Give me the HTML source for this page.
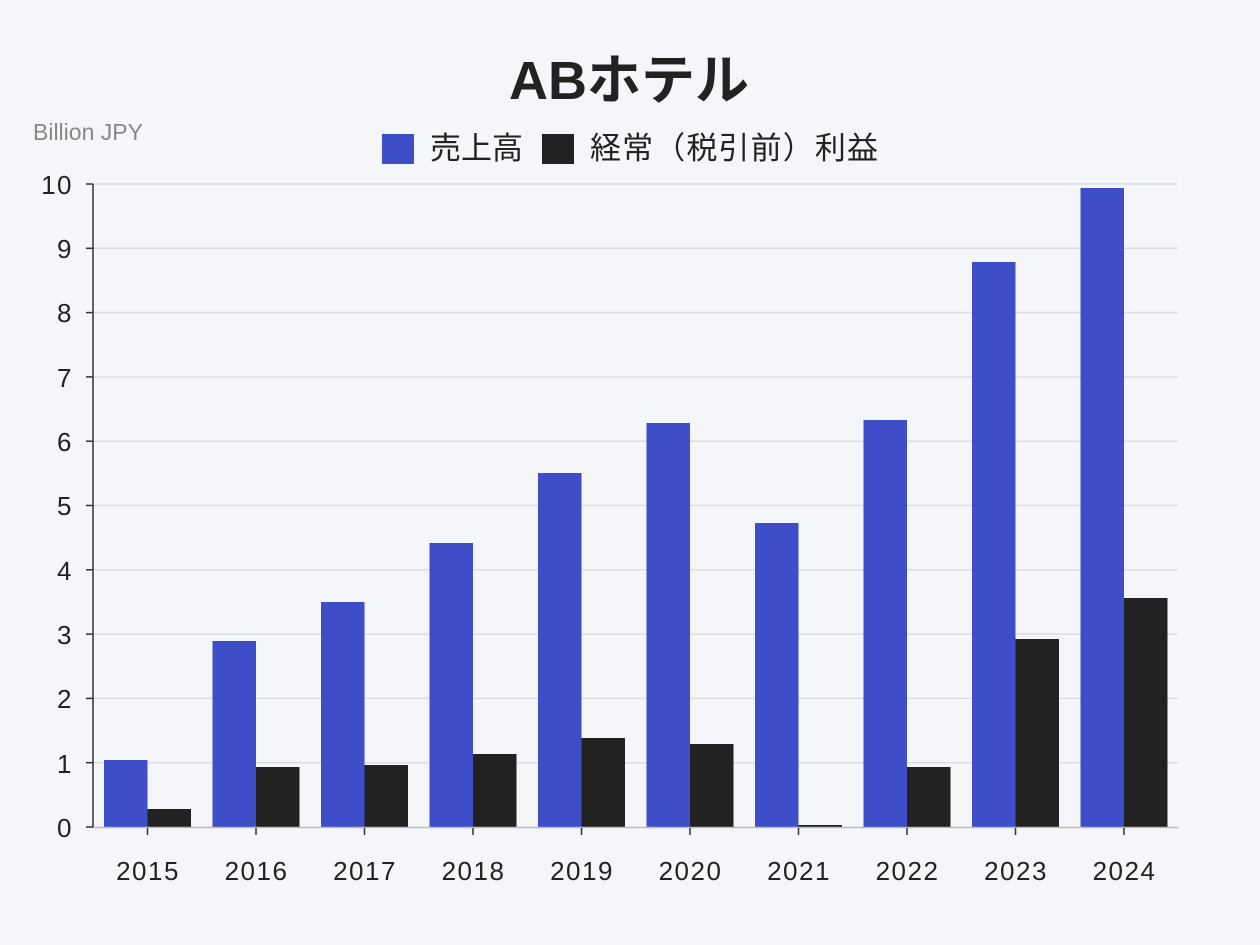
<!DOCTYPE html>
<html><head><meta charset="utf-8"><style>
body{margin:0;background:#f5f6fa;}
svg{display:block;font-family:"Liberation Sans","Noto Sans CJK JP",sans-serif;}
</style></head><body>
<svg width="1260" height="945" viewBox="0 0 1260 945">
<rect width="1260" height="945" fill="#f5f6fa"/>
<text x="629" y="99" text-anchor="middle" font-size="54" font-weight="bold" fill="#222">ABホテル</text>
<text x="33" y="140" font-size="23" fill="#888">Billion JPY</text>
<rect x="382" y="134" width="32" height="30" fill="#3d4ec8"/>
<text x="430" y="159" font-size="31" fill="#222">売上高</text>
<rect x="542" y="134" width="32" height="30" fill="#222"/>
<text x="590" y="159" font-size="31" fill="#222" textLength="288">経常（税引前）利益</text>
<g stroke="#dcdde2" stroke-width="1.5">
<line x1="93" x2="1178" y1="184" y2="184"/><line x1="93" x2="1178" y1="248.3" y2="248.3"/>
<line x1="93" x2="1178" y1="312.6" y2="312.6"/><line x1="93" x2="1178" y1="376.9" y2="376.9"/>
<line x1="93" x2="1178" y1="441.2" y2="441.2"/><line x1="93" x2="1178" y1="505.5" y2="505.5"/>
<line x1="93" x2="1178" y1="569.8" y2="569.8"/><line x1="93" x2="1178" y1="634.1" y2="634.1"/>
<line x1="93" x2="1178" y1="698.4" y2="698.4"/><line x1="93" x2="1178" y1="762.7" y2="762.7"/>
</g>
<g fill="#3d4ec8">
<rect x="104" y="760" width="43.5" height="67"/>
<rect x="212.5" y="641" width="43.5" height="186"/>
<rect x="321" y="602" width="43.5" height="225"/>
<rect x="429.5" y="543" width="43.5" height="284"/>
<rect x="538" y="473" width="43.5" height="354"/>
<rect x="646.5" y="423" width="43.5" height="404"/>
<rect x="755" y="523" width="43.5" height="304"/>
<rect x="863.5" y="420" width="43.5" height="407"/>
<rect x="972" y="262" width="43.5" height="565"/>
<rect x="1080.5" y="188" width="43.5" height="639"/>
</g>
<g fill="#222">
<rect x="147.5" y="809" width="43.5" height="18"/>
<rect x="256" y="767" width="43.5" height="60"/>
<rect x="364.5" y="765" width="43.5" height="62"/>
<rect x="473" y="754" width="43.5" height="73"/>
<rect x="581.5" y="738" width="43.5" height="89"/>
<rect x="690" y="744" width="43.5" height="83"/>
<rect x="798.5" y="825" width="43.5" height="2"/>
<rect x="907" y="767" width="43.5" height="60"/>
<rect x="1015.5" y="639" width="43.5" height="188"/>
<rect x="1124" y="598" width="43.5" height="229"/>
</g>
<g stroke="#333" stroke-width="1.5">
<line x1="93" x2="93" y1="184" y2="828"/>
<line x1="93" x2="1178" y1="827.5" y2="827.5" stroke="#bbb"/>
</g>
<g stroke="#333" stroke-width="1.5">
<line x1="86" x2="93" y1="184" y2="184"/><line x1="86" x2="93" y1="248.3" y2="248.3"/>
<line x1="86" x2="93" y1="312.6" y2="312.6"/><line x1="86" x2="93" y1="376.9" y2="376.9"/>
<line x1="86" x2="93" y1="441.2" y2="441.2"/><line x1="86" x2="93" y1="505.5" y2="505.5"/>
<line x1="86" x2="93" y1="569.8" y2="569.8"/><line x1="86" x2="93" y1="634.1" y2="634.1"/>
<line x1="86" x2="93" y1="698.4" y2="698.4"/><line x1="86" x2="93" y1="762.7" y2="762.7"/>
<line x1="86" x2="93" y1="827" y2="827"/>
<line x1="147.5" x2="147.5" y1="828" y2="835"/><line x1="256" x2="256" y1="828" y2="835"/>
<line x1="364.5" x2="364.5" y1="828" y2="835"/><line x1="473" x2="473" y1="828" y2="835"/>
<line x1="581.5" x2="581.5" y1="828" y2="835"/><line x1="690" x2="690" y1="828" y2="835"/>
<line x1="798.5" x2="798.5" y1="828" y2="835"/><line x1="907" x2="907" y1="828" y2="835"/>
<line x1="1015.5" x2="1015.5" y1="828" y2="835"/><line x1="1124" x2="1124" y1="828" y2="835"/>
</g>
<g font-size="26" fill="#222" text-anchor="end" letter-spacing="1.5">
<text x="73" y="194">10</text><text x="73" y="258">9</text><text x="73" y="322">8</text>
<text x="73" y="387">7</text><text x="73" y="451">6</text><text x="73" y="515">5</text>
<text x="73" y="580">4</text><text x="73" y="644">3</text><text x="73" y="708">2</text>
<text x="73" y="773">1</text><text x="73" y="837">0</text>
</g>
<g font-size="26" fill="#222" text-anchor="middle" letter-spacing="1.5">
<text x="148" y="880">2015</text><text x="256.5" y="880">2016</text><text x="365" y="880">2017</text>
<text x="473.5" y="880">2018</text><text x="582" y="880">2019</text><text x="690.5" y="880">2020</text>
<text x="799" y="880">2021</text><text x="907.5" y="880">2022</text><text x="1016" y="880">2023</text>
<text x="1124.5" y="880">2024</text>
</g>
</svg>
</body></html>
